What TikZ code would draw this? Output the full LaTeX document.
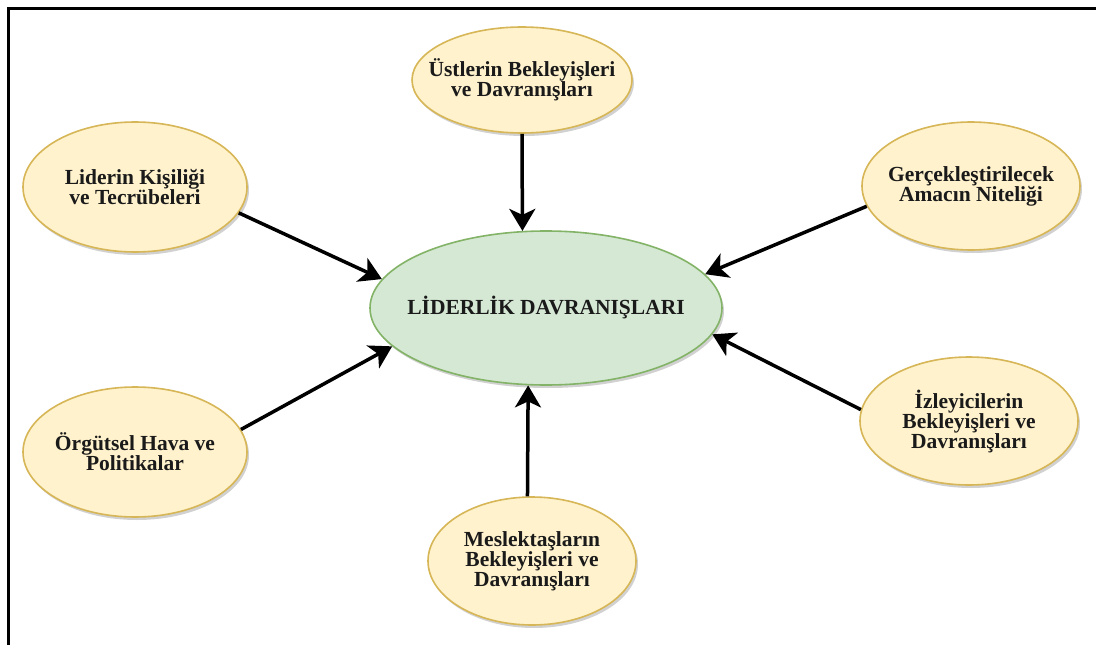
\documentclass[tikz,border=0pt]{standalone}
\usepackage{fontspec}
\setmainfont{Liberation Serif}
\usepackage{tikz}
\usetikzlibrary{arrows.meta,shapes.geometric,shadows}
\definecolor{ylfill}{HTML}{FFF2CC}
\definecolor{yldraw}{HTML}{D6B656}
\definecolor{grfill}{HTML}{D5E8D4}
\definecolor{grdraw}{HTML}{82B366}
\definecolor{txtc}{HTML}{1A1A1A}

\begin{document}
\begin{tikzpicture}[x=1pt,y=-1pt,
  oval/.style={ellipse,draw=yldraw,fill=ylfill,line width=1.6pt,inner sep=0pt,
    drop shadow={shadow xshift=2pt,shadow yshift=-3pt,opacity=0.3,fill=black!60}},
  txt/.style={font=\bfseries\fontsize{21.5}{20}\selectfont,text=txtc,align=center},
  arr/.style={line width=3.5pt,-{Stealth[length=22pt,width=26pt,inset=6pt]}}]
  \useasboundingbox (0,0) rectangle (1096,645);
  \draw[line width=3pt] (8,645) -- (8,8) -- (1096,8);
  \node[oval,draw=grdraw,fill=grfill,minimum width=352pt,minimum height=154pt,
    label={[txt]center:LİDERLİK DAVRANIŞLARI}] (ld) at (546,308) {};
  \node[oval,minimum width=220pt,minimum height=106pt,
    label={[txt]center:{Üstlerin Bekleyişleri\\ve Davranışları}}] (ub) at (522,80) {};
  \node[oval,minimum width=224pt,minimum height=130pt,
    label={[txt]center:{Liderin Kişiliği\\ve Tecrübeleri}}] (lk) at (135,187) {};
  \node[oval,minimum width=218pt,minimum height=128pt,
    label={[txt]center:{Gerçekleştirilecek\\Amacın Niteliği}}] (ga) at (971,186) {};
  \node[oval,minimum width=224pt,minimum height=130pt,
    label={[txt]center:{Örgütsel Hava ve\\Politikalar}}] (og) at (135,452) {};
  \node[oval,minimum width=218pt,minimum height=128pt,
    label={[txt]center:{İzleyicilerin\\Bekleyişleri ve\\Davranışları}}] (iz) at (969,421) {};
  \node[oval,minimum width=208pt,minimum height=128pt,
    label={[txt]center:{Meslektaşların\\Bekleyişleri ve\\Davranışları}}] (ms) at (532,561) {};
  \foreach \a/\b in {ub.-90/ld.107,lk.-14/ld.170,ga.191/ld.12,og.12/ld.194,iz.174/ld.-9,ms.94/ld.257}
    \draw[arr] (\a) -- (\b);
\end{tikzpicture}
\end{document}
